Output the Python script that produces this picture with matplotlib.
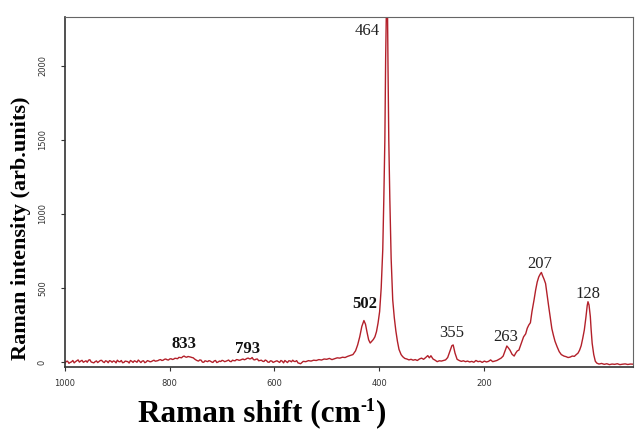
import numpy as np
import matplotlib
matplotlib.use("Agg")
import matplotlib.pyplot as plt

# baseline part of the spectrum, 1000 -> 557.5 cm-1
shift_base = list(range(1000, 555, -5))
intensity_base = [
    -8, 5, -3, 10, 2, 14, 6, -2, 8, 12,
    0, -6, 7, 3, 11, -4, 5, 9, -2, 4,
    12, 1, -5, 6, 2, 10, -3, 4, 13, -4,
    8, 0, 6, 3, 12, 7, 14, 10, 18, 15,
    20, 17, 25, 22, 30, 36, 34, 37, 33, 28,
    14, 6, 12, -2, 5, 9, 0, 7, -4, 6,
    11, 2, 9, 4, 12, 8, 15, 13, 20, 18,
    26, 22, 16, 19, 8, 12, 3, 9, -2, 6,
    1, 8, -3, 5, 10, -4, 7, 12, 3,
]
shift_base_mid = list(np.arange(997.5, 555, -5))
intensity_base_mid = [
    4, -9, 1, -6, 8, -1, 11, 3, -2, 15,
    -3, 2, -4, 10, 1, 8, -5, 6, 7, -6,
    3, 10, -3, 4, -7, 5, 8, -2, 5, 6,
    -5, 9, 1, 8, 5, 9, 16, 12, 20, 13,
    22, 19, 24, 31, 28, 40, 32, 35, 30, 20,
    9, 14, -1, 8, 2, 6, -3, 10, 0, 3,
    8, 5, 13, 2, 9, 16, 11, 17, 15, 24,
    21, 30, 14, 20, 10, 5, 13, -1, 8, -3,
    5, 2, 10, -6, 3, 8, 1, 4, 9,
]

# peak region
shift_peaks = [
    555, 550, 545, 540, 535, 530, 525, 520, 515, 510,
    505, 500, 495, 490, 485, 480, 475, 470, 465, 460,
    455, 450, 445, 441, 437, 433, 429, 426, 423, 420,
    417, 414, 411, 408, 405, 402, 399, 396, 393, 391,
    389, 387.5, 386, 385, 384, 383, 381.5, 379.5, 377, 374,
    371, 368, 365, 362, 358, 355, 351, 347, 343, 339,
    335, 331, 327, 323, 319, 315, 311, 307, 304, 301,
    297, 293, 289, 285, 281, 277, 273, 269, 265, 261,
    258.5, 255, 251, 247, 243, 239, 235, 231, 227, 223,
    219, 215, 211, 207, 203, 199, 195, 191, 187, 183,
    179, 175, 171, 167, 163, 159, 156, 153, 150, 146,
    142, 139, 136, 133, 130, 127, 124, 120, 117, 114,
    111, 108, 104, 101, 98, 95, 92, 90, 88, 85,
    82, 79, 76, 73, 70, 67, 64, 60, 56, 52,
    47, 43, 39, 35, 31, 27, 24, 20, 17, 14,
    11, 8, 5, 2.5, 1, -1, -3.5, -5, -7, -10,
    -13, -16, -20, -25, -30, -35, -40, -45, -50, -55,
    -60, -65, -70, -75, -80, -85,
]
intensity_peaks = [
    -6, -12, 4, 2, 9, 6, 12, 10, 16, 13,
    20, 18, 24, 16, 22, 28, 26, 32, 30, 38,
    44, 50, 75, 115, 170, 240, 280, 255, 200, 150,
    128, 140, 152, 170, 205, 263, 340, 500, 760, 1100,
    1500, 2050, 2400, 2500, 2400, 2000, 1500, 1100, 700, 420,
    300, 210, 140, 85, 50, 36, 24, 20, 14, 18,
    12, 16, 10, 20, 26, 18, 30, 43, 28, 42,
    20, 12, 2, 8, 6, 10, 14, 30, 70, 110,
    115, 60, 18, 10, 4, 8, 2, 6, 0, 4,
    -2, 10, 2, 5, -3, 6, 0, 4, 14, 2,
    6, 10, 18, 26, 40, 80, 108, 95, 80, 52,
    40, 60, 75, 80, 110, 140, 170, 190, 228, 250,
    265, 340, 420, 486, 540, 575, 595, 605, 585, 560,
    530, 450, 374, 300, 225, 180, 140, 103, 70, 50,
    40, 36, 30, 33, 40, 38, 48, 60, 80, 110,
    160, 216, 300, 380, 407, 385, 306, 220, 126, 50,
    5, -8, -14, -10, -16, -12, -18, -14, -16, -12,
    -18, -15, -13, -17, -14, -15,
]
assert len(shift_base) == len(intensity_base)
assert len(shift_base_mid) == len(intensity_base_mid)
assert len(shift_peaks) == len(intensity_peaks)

shift = np.array(shift_base + shift_base_mid + shift_peaks, dtype=float)
intensity = np.array(intensity_base + intensity_base_mid + intensity_peaks, dtype=float)
order = np.argsort(-shift)
shift = shift[order]
intensity = intensity[order]

peak_labels = ["833", "793", "502", "464", "355", "263", "207", "128"]
peak_bold = [True, True, True, False, False, False, False, False]
# where the labels sit (data coords)
label_x = [773, 652, 427, 423, 261, 158, 93, 1]
label_y = [121, 88, 392, 2236, 196, 169, 662, 459]

xticks = [1000, 800, 600, 400, 200]
yticks = [0, 500, 1000, 1500, 2000]

W, H = 635, 430
fig = plt.figure(figsize=(W / 100, H / 100), dpi=100)
ax = fig.add_axes([65 / W, 1 - 367 / H, 568 / W, 350 / H])

ax.plot(shift, intensity, color="#b3202a", lw=1.0)
ax.set_xlim(1000, -85)
ax.set_ylim(-34, 2331)

ax.set_xticks(xticks)
ax.set_xticklabels([str(t) for t in xticks])
ax.set_yticks(yticks)
ax.set_yticklabels([str(t) for t in yticks], rotation=90, va="center")
ax.tick_params(axis="both", labelsize=6, colors="#333333", length=3, width=0.8)
ax.tick_params(axis="x", pad=6)
ax.tick_params(axis="y", pad=10)

for side in ["left", "bottom"]:
    ax.spines[side].set_color("#333333")
    ax.spines[side].set_linewidth(1.2)
for side in ["top", "right"]:
    ax.spines[side].set_color("#666666")
    ax.spines[side].set_linewidth(0.8)

for txt, bold, lx, ly in zip(peak_labels, peak_bold, label_x, label_y):
    ax.text(lx, ly, txt, ha="center", va="center", fontsize=12,
            family="Liberation Serif", fontweight="bold" if bold else "normal",
            color="#111111" if bold else "#222222")

fig.text(21 / W, 1 - 228 / H, "Raman intensity (arb.units)", rotation=90,
         ha="center", va="center", fontsize=16, fontweight="bold",
         family="Liberation Serif")

# x label built from pieces so the superscript stays small
lab_font = dict(fontweight="bold", family="Liberation Serif", color="black")
renderer = fig.canvas.get_renderer()
y_base = 1 - 421 / H
y_sup = 1 - 411 / H
t1 = fig.text(0, y_base, "Raman shift (cm", fontsize=22.5, va="baseline", **lab_font)
t2 = fig.text(0, y_sup, "-1", fontsize=13, va="baseline", **lab_font)
t3 = fig.text(0, y_base, ")", fontsize=22.5, va="baseline", **lab_font)
w1 = t1.get_window_extent(renderer).width
w2 = t2.get_window_extent(renderer).width
w3 = t3.get_window_extent(renderer).width
x0 = 262 - (w1 + w2 + w3) / 2
t1.set_x(x0 / W)
t2.set_x((x0 + w1) / W)
t3.set_x((x0 + w1 + w2) / W)

fig.savefig("out.png", dpi=100)
